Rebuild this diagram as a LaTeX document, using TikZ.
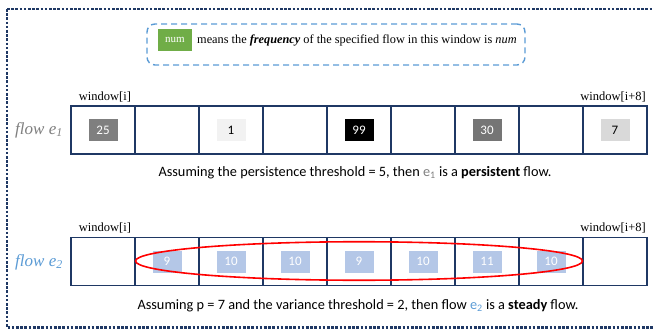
\documentclass[tikz,border=0pt]{standalone}
\usepackage{fontspec}
\setmainfont{Liberation Serif}
\setsansfont{Carlito}
\usetikzlibrary{shapes.geometric}
\definecolor{navy}{HTML}{1F3864}
\definecolor{legblue}{HTML}{5B9BD5}
\definecolor{numgreen}{HTML}{70AD47}
\definecolor{flowgray}{HTML}{7F7F7F}
\definecolor{boxblue}{HTML}{B4C7E7}
\tikzset{
  cell/.style={draw=navy, line width=1.6pt, minimum width=64pt, minimum height=48pt, inner sep=0pt, anchor=center},
  valbox/.style={minimum width=29pt, minimum height=22pt, inner sep=0pt, font=\sffamily\fontsize{13}{13}\selectfont},
  winlabel/.style={font=\fontsize{12.5}{13}\selectfont, inner sep=0pt},
  flowlabel/.style={font=\itshape\fontsize{17}{17}\selectfont, inner sep=0pt},
  caption/.style={font=\sffamily\fontsize{14.3}{15}\selectfont, inner sep=0pt},
}
\begin{document}
\begin{tikzpicture}[x=1pt,y=-1pt]
\useasboundingbox (0,0) rectangle (654,329);
% outer frame
\draw[navy, line width=2.6pt, dash pattern=on 2.6pt off 1.6pt] (7,9) -- (670,9) (7,9) -- (7,327.5) -- (670,327.5);
% legend
\node[draw=legblue, line width=1.4pt, dash pattern=on 6pt off 4pt, rounded corners=8pt, minimum width=378pt, minimum height=41pt] (legend) at (336,44.5) {};
\node[fill=numgreen, text=white, minimum width=34pt, minimum height=22pt, inner sep=0pt, font=\fontsize{11}{11}\selectfont] (num) at (175,40) {num};
\node[anchor=west, inner sep=0pt, font=\fontsize{12.3}{12}\selectfont] (legtext) at (197,40) {means the \textbf{\textit{frequency}} of the specified flow in this window is \textit{num}};
% row 1
\foreach \k in {1,...,9} {
  \node[cell] (a\k) at ({71+64*(\k-0.5)},130) {};
  \node[cell] (b\k) at ({71+64*(\k-0.5)},261.5) {};
}
\node[winlabel, anchor=south] (w1) at (105,102) {window[i]};
\node[winlabel, anchor=south east] (w2) at (646,102) {window[i+8]};
\node[winlabel, anchor=south] (w3) at (105,233) {window[i]};
\node[winlabel, anchor=south east] (w4) at (646,233) {window[i+8]};
\node[flowlabel, text=flowgray] (f1) at (39,130) {flow e\textsubscript{1}};
\node[flowlabel, text=legblue] (f2) at (39,262) {flow e\textsubscript{2}};
% row 1 values
\node[valbox, fill=flowgray, text=white] (v1) at (a1) {25};
\node[valbox, fill=black!5, text=black] (v3) at (a3) {1};
\node[valbox, fill=black, text=white] (v5) at (a5) {99};
\node[valbox, fill=black!54, text=white] (v7) at (a7) {30};
\node[valbox, fill=black!15, text=black] (v9) at (a9) {7};
% row 2 values
\foreach \k/\v in {2/9,3/10,4/10,5/9,6/10,7/11,8/10} {
  \node[valbox, fill=boxblue, text=white] (u\k) at (b\k) {\v};
}
\node[draw=red, line width=1.6pt, ellipse, minimum width=447pt, minimum height=38.5pt, inner sep=0pt] (oval) at (359,261) {};
% captions
\node[caption] (cap1) at (355,173) {Assuming the persistence threshold = 5, then \textcolor{flowgray}{e\textsubscript{1}} is a \textbf{persistent} flow.};
\node[caption] (cap2) at (358,306) {Assuming p = 7 and the variance threshold = 2, then flow \textcolor{legblue}{e\textsubscript{2}} is a \textbf{steady} flow.};
\end{tikzpicture}
\end{document}
